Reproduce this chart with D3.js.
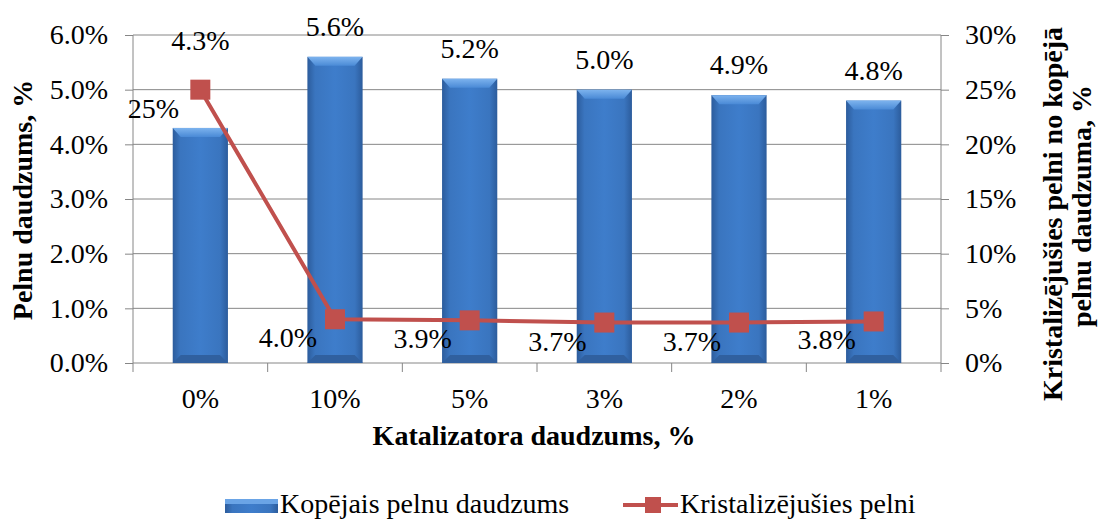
<!DOCTYPE html>
<html>
<head>
<meta charset="utf-8">
<script src="https://cdn.jsdelivr.net/npm/d3@7"></script>
<style>
  body { margin: 0; background: #fff; }
  svg { display: block; font-family: "Liberation Serif", "Times New Roman", serif; }
  .axis path { display: none; }
  .axis line { stroke: #868686; }
  .axis text { font-size: 28px; fill: #000; font-family: "Liberation Serif", "Times New Roman", serif; }
</style>
</head>
<body>
<svg width="1101" height="521"></svg>
<script>
var categories = ['0%', '10%', '5%', '3%', '2%', '1%'];
var totalAsh = [4.3, 5.6, 5.2, 5.0, 4.9, 4.8];      // Kopējais pelnu daudzums, %
var crystAsh = [25, 4.0, 3.9, 3.7, 3.7, 3.8];       // Kristalizējušies pelni, %
var leftTicks = [0, 1, 2, 3, 4, 5, 6];
var rightTicks = [0, 5, 10, 15, 20, 25, 30];

var svg = d3.select('svg');
var plotL = 133, plotR = 941, plotT = 35, plotB = 363;

var x = d3.scaleBand().domain(categories).range([plotL, plotR]).padding(0);
var y = d3.scaleLinear().domain([0, 6]).range([plotB, plotT]);
var y2 = d3.scaleLinear().domain([0, 30]).range([plotB, plotT]);

// gradients for the bevelled bars
var defs = svg.append('defs');
var gh = defs.append('linearGradient').attr('id', 'barH');
gh.append('stop').attr('offset', '0%').attr('stop-color', '#2c5c9c');
gh.append('stop').attr('offset', '14%').attr('stop-color', '#3a75bf');
gh.append('stop').attr('offset', '50%').attr('stop-color', '#3e7dcb');
gh.append('stop').attr('offset', '86%').attr('stop-color', '#3a75bf');
gh.append('stop').attr('offset', '100%').attr('stop-color', '#2c5c9c');
var gt = defs.append('linearGradient').attr('id', 'barTop')
  .attr('x1', 0).attr('y1', 0).attr('x2', 0).attr('y2', 1);
gt.append('stop').attr('offset', '0%').attr('stop-color', '#7db3ee');
gt.append('stop').attr('offset', '100%').attr('stop-color', '#4a8ad6');

// gridlines
svg.append('g').selectAll('line').data(leftTicks).enter().append('line')
  .attr('x1', plotL).attr('x2', plotR)
  .attr('y1', d => y(d)).attr('y2', d => y(d))
  .attr('stroke', '#868686').attr('stroke-width', 1);

// axis lines
svg.append('line').attr('x1', plotL).attr('x2', plotL).attr('y1', plotT).attr('y2', plotB)
  .attr('stroke', '#868686');
svg.append('line').attr('x1', plotR).attr('x2', plotR).attr('y1', plotT).attr('y2', plotB)
  .attr('stroke', '#868686');

// category boundary ticks
var bounds = categories.map(c => x(c)).concat([plotR]);
svg.append('g').selectAll('line').data(bounds).enter().append('line')
  .attr('x1', d => d).attr('x2', d => d)
  .attr('y1', plotB).attr('y2', plotB + 9)
  .attr('stroke', '#868686');

svg.append('g').attr('class', 'axis')
  .attr('transform', 'translate(' + plotL + ',0)')
  .call(d3.axisLeft(y).tickValues(leftTicks).tickSize(8).tickPadding(17)
    .tickFormat(d => d.toFixed(1) + '%'));

svg.append('g').attr('class', 'axis')
  .attr('transform', 'translate(' + plotR + ',0)')
  .call(d3.axisRight(y2).tickValues(rightTicks).tickSize(8).tickPadding(16)
    .tickFormat(d => d + '%'));

svg.append('g').attr('class', 'axis')
  .attr('transform', 'translate(0,' + plotB + ')')
  .call(d3.axisBottom(x).tickSize(0).tickPadding(25));

// bars
var bw = x.bandwidth() * 0.41;
var bx = i => x(categories[i]) + (x.bandwidth() - bw) / 2;
var bars = svg.append('g').selectAll('g').data(totalAsh).enter().append('g');
bars.append('rect')
  .attr('x', (d, i) => bx(i))
  .attr('y', d => y(d))
  .attr('width', bw)
  .attr('height', d => plotB - y(d))
  .attr('fill', 'url(#barH)');
bars.append('polygon')
  .attr('points', (d, i) => {
    var x0 = bx(i), t = y(d);
    return [[x0, t], [x0 + bw, t], [x0 + bw - 8, t + 9], [x0 + 8, t + 9]].join(' ');
  })
  .attr('fill', 'url(#barTop)');
bars.append('polygon')
  .attr('points', (d, i) => {
    var x0 = bx(i);
    return [[x0 + 8, plotB - 8], [x0 + bw - 8, plotB - 8], [x0 + bw, plotB], [x0, plotB]].join(' ');
  })
  .attr('fill', '#30609f');

// bar labels (the first one was moved up in the original)
svg.append('g').selectAll('text').data(totalAsh).enter().append('text')
  .attr('x', (d, i) => x(categories[i]) + x.bandwidth() / 2)
  .attr('y', (d, i) => i === 0 ? y(6) + 15 : y(d) - 21)
  .attr('text-anchor', 'middle')
  .attr('font-size', 28)
  .text(d => d.toFixed(1) + '%');

// line series
var line = d3.line()
  .x((d, i) => x(categories[i]) + x.bandwidth() / 2)
  .y(d => y2(d));
svg.append('path').datum(crystAsh)
  .attr('d', line)
  .attr('fill', 'none')
  .attr('stroke', '#c0504d')
  .attr('stroke-width', 4);
svg.append('g').selectAll('rect').data(crystAsh).enter().append('rect')
  .attr('x', (d, i) => x(categories[i]) + x.bandwidth() / 2 - 10)
  .attr('y', d => y2(d) - 10)
  .attr('width', 20).attr('height', 20)
  .attr('fill', '#c0504d');

svg.append('g').selectAll('text').data(crystAsh).enter().append('text')
  .attr('x', (d, i) => x(categories[i]) + x.bandwidth() / 2 - 47)
  .attr('y', d => y2(d) + 28)
  .attr('text-anchor', 'middle')
  .attr('font-size', 28)
  .text(d => d === 25 ? '25%' : d.toFixed(1) + '%');

// axis titles
svg.append('text')
  .attr('transform', 'translate(32,200) rotate(-90)')
  .attr('text-anchor', 'middle').attr('font-size', 28).attr('font-weight', 'bold')
  .text('Pelnu daudzums, %');
svg.append('text')
  .attr('transform', 'translate(1062,214) rotate(-90)')
  .attr('text-anchor', 'middle').attr('font-size', 28).attr('font-weight', 'bold')
  .text('Kristalizējušies pelni no kopējā');
svg.append('text')
  .attr('transform', 'translate(1091,206) rotate(-90)')
  .attr('text-anchor', 'middle').attr('font-size', 28).attr('font-weight', 'bold')
  .text('pelnu daudzuma, %');
svg.append('text')
  .attr('x', 534).attr('y', 445)
  .attr('text-anchor', 'middle').attr('font-size', 28).attr('font-weight', 'bold')
  .text('Katalizatora daudzums, %');

// legend
var lg = svg.append('g');
lg.append('rect').attr('x', 225).attr('y', 499).attr('width', 53).attr('height', 14)
  .attr('fill', 'url(#barH)');
lg.append('rect').attr('x', 225).attr('y', 499).attr('width', 53).attr('height', 5)
  .attr('fill', '#6aa4e6');
lg.append('text').attr('x', 280).attr('y', 513).attr('font-size', 28)
  .text('Kopējais pelnu daudzums');
lg.append('line').attr('x1', 623).attr('x2', 678).attr('y1', 505).attr('y2', 505)
  .attr('stroke', '#c0504d').attr('stroke-width', 4);
lg.append('rect').attr('x', 645).attr('y', 497).attr('width', 16).attr('height', 16)
  .attr('fill', '#c0504d');
lg.append('text').attr('x', 680).attr('y', 513).attr('font-size', 28)
  .text('Kristalizējušies pelni');
</script>
</body>
</html>
